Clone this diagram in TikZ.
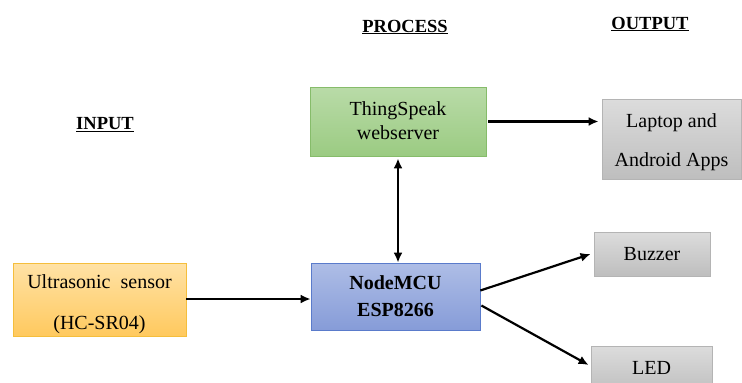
\documentclass[tikz,border=0pt]{standalone}
\usepackage{fontspec}
\setmainfont{Liberation Serif}
\usetikzlibrary{arrows.meta}
\definecolor{orT}{HTML}{FFE2A6}
\definecolor{orB}{HTML}{FFC95E}
\definecolor{orD}{HTML}{F5BE3C}
\definecolor{grT}{HTML}{B9DBA8}
\definecolor{grB}{HTML}{9BCB82}
\definecolor{grD}{HTML}{86BC6A}
\definecolor{blT}{HTML}{AEBDE6}
\definecolor{blB}{HTML}{869CD8}
\definecolor{blD}{HTML}{5A7BCB}
\definecolor{gyT}{HTML}{DCDCDC}
\definecolor{gyB}{HTML}{BEBEBE}
\definecolor{gyD}{HTML}{B4B4B4}
\newcommand{\lowered}[2]{\raisebox{-#1}[\height][\depth]{\begin{tabular}{@{}c@{}}#2\end{tabular}}}
\tikzset{
  blk/.style={rectangle, inner sep=0pt, align=center, line width=0.8pt,
    font=\fontsize{20}{24}\selectfont},
  orbox/.style={blk, draw=orD, top color=orT, bottom color=orB},
  grbox/.style={blk, draw=grD, top color=grT, bottom color=grB},
  blbox/.style={blk, draw=blD, top color=blT, bottom color=blB, font=\fontsize{20}{27}\selectfont\bfseries},
  gybox/.style={blk, draw=gyD, top color=gyT, bottom color=gyB},
  heading/.style={font=\fontsize{18.5}{20}\selectfont\bfseries, inner sep=0pt},
  arr/.style={line width=2.2pt, -{Latex[length=10pt,width=9pt]}},
  darr/.style={line width=2.2pt, {Latex[length=10pt,width=9pt]}-{Latex[length=10pt,width=9pt]}}
}
\begin{document}
\begin{tikzpicture}[x=1pt,y=-1pt]
\useasboundingbox (0,0) rectangle (742,383);
\node[orbox, minimum width=173pt, minimum height=73pt] (us) at (99.5,299.5)
  {\lowered{5pt}{Ultrasonic\ \ sensor\\[17pt](HC-SR04)}};
\node[grbox, minimum width=176pt, minimum height=69pt] (ts) at (398,121.5)
  {\lowered{1.5pt}{ThingSpeak\\webserver}};
\node[blbox, minimum width=169pt, minimum height=67pt] (nm) at (395.5,296.5)
  {NodeMCU\\ESP8266};
\node[gybox, minimum width=139pt, minimum height=80pt] (lap) at (671.5,139)
  {\lowered{3.5pt}{Laptop and\\[15pt]Android Apps}};
\node[gybox, minimum width=116pt, minimum height=44pt] (buz) at (652,254) {Buzzer};
\node[gybox, minimum width=121pt, minimum height=48pt] (led) at (651.5,370) {\raisebox{4pt}{LED}};

\node[heading] (hin) at (105,125) {\underline{INPUT}};
\node[heading] (hpr) at (405,27) {\underline{PROCESS}};
\node[heading] (hout) at (650,24) {\underline{OUTPUT}};

\draw[arr] (us.east |- 0,299) -- (nm.west |- 0,299);
\draw[darr] ([yshift=-2pt]ts.south) -- (ts.south |- nm.north);
\draw[arr] ([xshift=2pt]ts.east) -- ([xshift=-3pt]ts.east -| lap.west);
\draw[arr] ([yshift=6pt]nm.east) -- ([xshift=-3pt]buz.west);
\draw[arr] ([yshift=-9pt,xshift=1pt]nm.east) -- ([xshift=-2pt,yshift=5pt]led.west);
\end{tikzpicture}
\end{document}
